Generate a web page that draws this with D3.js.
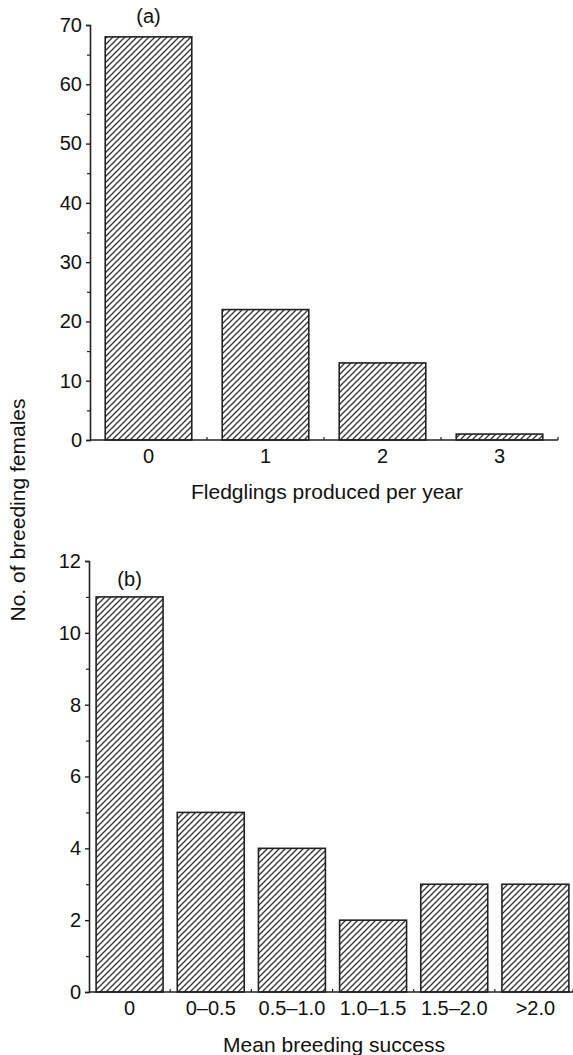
<!DOCTYPE html>
<html>
<head>
<meta charset="utf-8">
<script src="https://cdn.jsdelivr.net/npm/d3@7"></script>
<style>
  body { margin: 0; background: #fff; }
  svg text { font-family: "Liberation Sans", Arial, sans-serif; fill: #111; }
</style>
</head>
<body>
<svg id="chart" width="573" height="1055"></svg>
<script>
// panel (a)
const fledglingCats = ['0', '1', '2', '3'];
const fledglingCounts = [68, 22, 13, 1];
const fledglingTicks = [0, 10, 20, 30, 40, 50, 60, 70];

// panel (b)
const successCats = ['0', '0\u20130.5', '0.5\u20131.0', '1.0\u20131.5', '1.5\u20132.0', '>2.0'];
const successCounts = [11, 5, 4, 2, 3, 3];
const successTicks = [0, 2, 4, 6, 8, 10, 12];

const svg = d3.select('#chart');
const ink = '#222';

// diagonal hatching, like the printed figure
const defs = svg.append('defs');
defs.append('pattern')
  .attr('id', 'hatch')
  .attr('patternUnits', 'userSpaceOnUse')
  .attr('width', 6)
  .attr('height', 6)
  .append('path')
  .attr('d', 'M-1,1 l2,-2 M0,6 l6,-6 M5,7 l2,-2')
  .attr('stroke', '#333')
  .attr('stroke-width', 1.3);

function drawPanel(opts) {
  const x = d3.scaleBand()
    .domain(opts.cats)
    .range(opts.xRange)
    .paddingInner(opts.pad)
    .paddingOuter(opts.pad / 2);

  const y = d3.scaleLinear()
    .domain([0, opts.yMax])
    .range(opts.yRange);

  const g = svg.append('g');

  // bars
  g.selectAll('rect.bar')
    .data(opts.values)
    .join('rect')
    .attr('class', 'bar')
    .attr('x', (d, i) => x(opts.cats[i]))
    .attr('y', d => y(d))
    .attr('width', x.bandwidth())
    .attr('height', d => y(0) - y(d))
    .attr('fill', 'url(#hatch)')
    .attr('stroke', ink)
    .attr('stroke-width', 1.6);

  // y axis, major ticks with labels
  const yAxis = g.append('g')
    .attr('transform', `translate(${opts.xRange[0]},0)`)
    .call(d3.axisLeft(y).tickValues(opts.ticks).tickSize(4).tickPadding(4).tickFormat(d3.format('d')));
  yAxis.select('.domain').attr('stroke', ink).attr('stroke-width', 1.6);
  yAxis.selectAll('.tick line').attr('stroke', ink).attr('stroke-width', 1.4);
  yAxis.selectAll('.tick text').style('font-size', '20px').attr('fill', '#111');

  // minor ticks halfway between the labelled ones
  const step = opts.ticks[1] - opts.ticks[0];
  const minors = opts.ticks.slice(0, -1).map(t => t + step / 2);
  g.append('g')
    .attr('transform', `translate(${opts.xRange[0]},0)`)
    .call(d3.axisLeft(y).tickValues(minors).tickSize(3).tickFormat(''))
    .call(a => a.select('.domain').remove())
    .selectAll('.tick line').attr('stroke', ink).attr('stroke-width', 1.2);

  // x axis: category labels under bars, small ticks at band edges
  const xAxis = g.append('g')
    .attr('transform', `translate(0,${y(0)})`)
    .call(d3.axisBottom(x).tickSize(0).tickPadding(9));
  xAxis.select('.domain').attr('stroke', ink).attr('stroke-width', 1.6)
    .attr('d', `M${opts.xRange[0]},0H${opts.axisEnd}`);
  xAxis.selectAll('.tick text').style('font-size', '20px').attr('fill', '#111');

  const edges = opts.cats.slice(1).map(c => x(c) - x.step() * opts.pad / 2).concat([opts.axisEnd]);
  g.selectAll('line.xedge')
    .data(edges)
    .join('line')
    .attr('class', 'xedge')
    .attr('x1', d => d).attr('x2', d => d)
    .attr('y1', y(0)).attr('y2', y(0) - 3)
    .attr('stroke', ink)
    .attr('stroke-width', 1.2);

  // panel tag
  g.append('text')
    .attr('x', x(opts.cats[0]) + x.bandwidth() / 2)
    .attr('y', opts.tagY)
    .attr('text-anchor', 'middle')
    .style('font-size', '20px')
    .text(opts.tag);

  // x title
  g.append('text')
    .attr('x', opts.titleX)
    .attr('y', opts.titleY)
    .attr('text-anchor', 'middle')
    .style('font-size', '21px')
    .text(opts.title);
}

drawPanel({
  cats: fledglingCats, values: fledglingCounts, ticks: fledglingTicks,
  yMax: 70, yRange: [440, 25], xRange: [90, 558], axisEnd: 558, pad: 0.26,
  tag: '(a)', tagY: 23, title: 'Fledglings produced per year', titleX: 327, titleY: 499
});

drawPanel({
  cats: successCats, values: successCounts, ticks: successTicks,
  yMax: 12, yRange: [992, 561], xRange: [89, 576], axisEnd: 573, pad: 0.175,
  tag: '(b)', tagY: 586, title: 'Mean breeding success', titleX: 334, titleY: 1052
});

// shared y title
svg.append('text')
  .attr('transform', 'translate(25,510) rotate(-90)')
  .attr('text-anchor', 'middle')
  .style('font-size', '21px')
  .text('No. of breeding females');
</script>
</body>
</html>
